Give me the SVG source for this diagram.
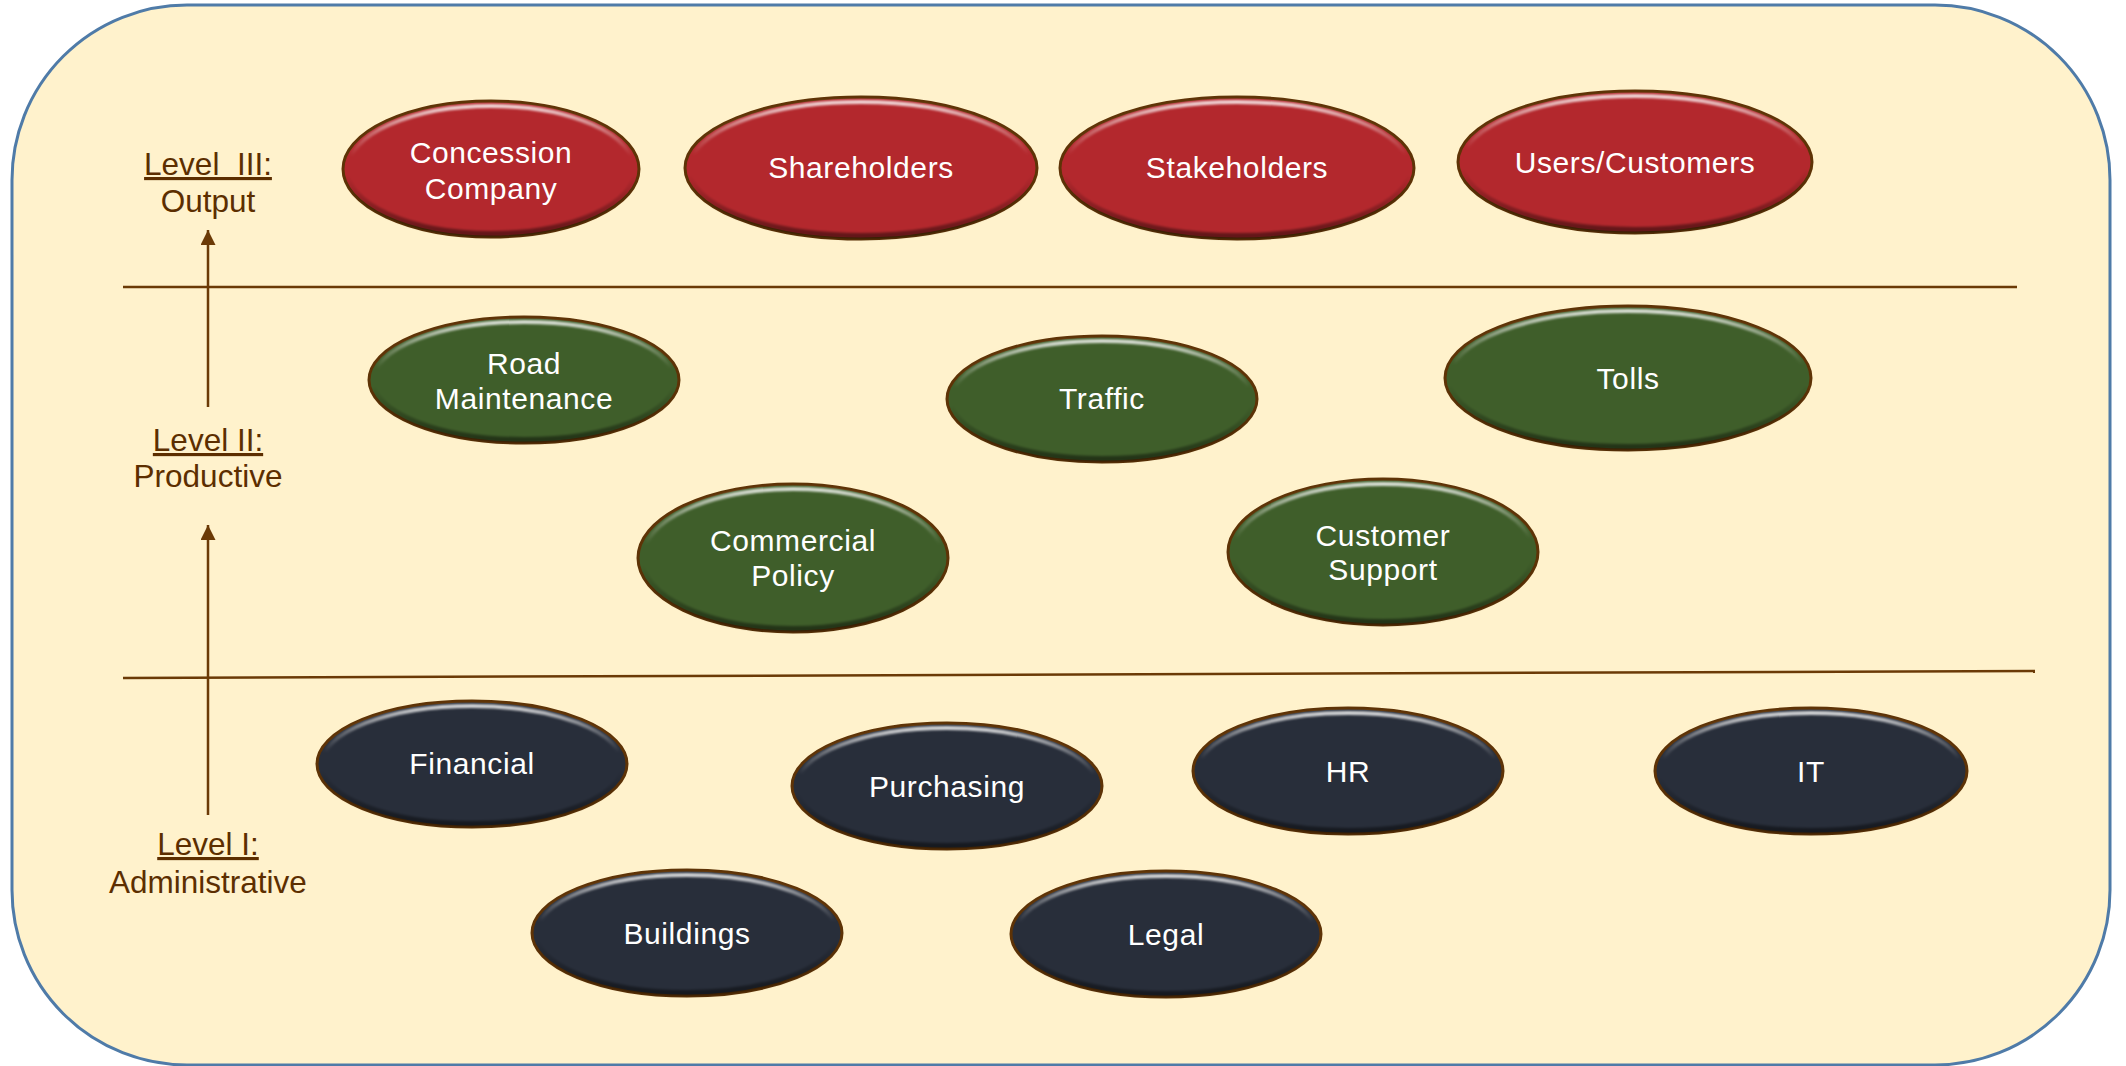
<svg xmlns="http://www.w3.org/2000/svg" width="2126" height="1066" viewBox="0 0 2126 1066">
  <style>
    .lvl { font-family: "Liberation Sans", Arial, sans-serif; font-size: 31.5px; fill: #5C2E00; text-anchor: middle; }
    .ul { text-decoration: underline; }
    .lbl { font-family: "Liberation Sans", Arial, sans-serif; font-size: 30px; letter-spacing: 0.6px; fill: #FFFFFF; text-anchor: middle; }
    .rim { stroke: #5E3306; stroke-width: 3; }
    .hl { fill: none; stroke: url(#hiGrad); stroke-width: 4; filter: url(#soft); }
    .sh { fill: none; stroke: url(#shGrad); stroke-width: 6; filter: url(#soft); }
    .red { fill: #B3282D; }
    .green { fill: #3F5E2A; }
    .dark { fill: #282E3A; }
    .rule { stroke: #6B3A06; stroke-width: 2.5; fill: none; }
  </style>
  <defs>
    <linearGradient id="hiGrad" x1="0" y1="0" x2="0" y2="1">
      <stop offset="0" stop-color="#FFFFFF" stop-opacity="0.8"/>
      <stop offset="0.22" stop-color="#FFFFFF" stop-opacity="0.3"/>
      <stop offset="0.4" stop-color="#FFFFFF" stop-opacity="0"/>
      <stop offset="1" stop-color="#FFFFFF" stop-opacity="0"/>
    </linearGradient>
    <linearGradient id="shGrad" x1="0" y1="0" x2="0" y2="1">
      <stop offset="0" stop-color="#000000" stop-opacity="0"/>
      <stop offset="0.55" stop-color="#000000" stop-opacity="0"/>
      <stop offset="1" stop-color="#000000" stop-opacity="0.45"/>
    </linearGradient>
    <filter id="soft" x="-10%" y="-10%" width="120%" height="120%">
      <feGaussianBlur stdDeviation="1.2"/>
    </filter>
    <marker id="arrow" viewBox="0 0 10 10" refX="10" refY="5" markerWidth="15" markerHeight="15" markerUnits="userSpaceOnUse" orient="auto">
      <path d="M0,0 L10,5 L0,10 Z" fill="#6B3A06"/>
    </marker>
  </defs>

  <!-- panel -->
  <rect x="12" y="5" width="2098" height="1060" rx="175" ry="175" fill="#FFF2CC" stroke="#4F7BA8" stroke-width="3"/>

  <!-- level dividers and arrows -->
  <g id="connectors">
    <line class="rule" x1="123" y1="287" x2="2017" y2="287"/>
    <line class="rule" x1="123" y1="678" x2="2035" y2="671"/>
    <line class="rule" x1="208" y1="815" x2="208" y2="525" marker-end="url(#arrow)"/>
    <line class="rule" x1="208" y1="407" x2="208" y2="230" marker-end="url(#arrow)"/>
  </g>

  <!-- level captions -->
  <g id="level3">
    <text class="lvl" x="208" y="175"><tspan class="ul" xml:space="preserve">Level  III:</tspan></text>
    <text class="lvl" x="208" y="212">Output</text>
  </g>
  <g id="level2">
    <text class="lvl" x="208" y="451"><tspan class="ul">Level II:</tspan></text>
    <text class="lvl" x="208" y="487">Productive</text>
  </g>
  <g id="level1">
    <text class="lvl" x="208" y="855"><tspan class="ul">Level I:</tspan></text>
    <text class="lvl" x="208" y="893">Administrative</text>
  </g>

  <!-- Level III nodes -->
  <g id="concession-company" transform="translate(491,169)">
    <ellipse class="red rim" rx="148" ry="68"/>
    <ellipse class="sh" rx="145" ry="65"/>
    <ellipse class="hl" rx="143" ry="63"/>
    <text class="lbl" y="-6">Concession</text>
    <text class="lbl" y="30">Company</text>
  </g>
  <g id="shareholders" transform="translate(861,168)">
    <ellipse class="red rim" rx="176" ry="71"/>
    <ellipse class="sh" rx="173" ry="68"/>
    <ellipse class="hl" rx="171" ry="66"/>
    <text class="lbl" y="10">Shareholders</text>
  </g>
  <g id="stakeholders" transform="translate(1237,168)">
    <ellipse class="red rim" rx="177" ry="71"/>
    <ellipse class="sh" rx="174" ry="68"/>
    <ellipse class="hl" rx="172" ry="66"/>
    <text class="lbl" y="10">Stakeholders</text>
  </g>
  <g id="users-customers" transform="translate(1635,162)">
    <ellipse class="red rim" rx="177" ry="71"/>
    <ellipse class="sh" rx="174" ry="68"/>
    <ellipse class="hl" rx="172" ry="66"/>
    <text class="lbl" y="11">Users/Customers</text>
  </g>

  <!-- Level II nodes -->
  <g id="road-maintenance" transform="translate(524,380)">
    <ellipse class="green rim" rx="155" ry="63"/>
    <ellipse class="sh" rx="152" ry="60"/>
    <ellipse class="hl" rx="150" ry="58"/>
    <text class="lbl" y="-6">Road</text>
    <text class="lbl" y="29">Maintenance</text>
  </g>
  <g id="traffic" transform="translate(1102,399)">
    <ellipse class="green rim" rx="155" ry="63"/>
    <ellipse class="sh" rx="152" ry="60"/>
    <ellipse class="hl" rx="150" ry="58"/>
    <text class="lbl" y="10">Traffic</text>
  </g>
  <g id="tolls" transform="translate(1628,378)">
    <ellipse class="green rim" rx="183" ry="72"/>
    <ellipse class="sh" rx="180" ry="69"/>
    <ellipse class="hl" rx="178" ry="67"/>
    <text class="lbl" y="11">Tolls</text>
  </g>
  <g id="commercial-policy" transform="translate(793,558)">
    <ellipse class="green rim" rx="155" ry="74"/>
    <ellipse class="sh" rx="152" ry="71"/>
    <ellipse class="hl" rx="150" ry="69"/>
    <text class="lbl" y="-7">Commercial</text>
    <text class="lbl" y="28">Policy</text>
  </g>
  <g id="customer-support" transform="translate(1383,552)">
    <ellipse class="green rim" rx="155" ry="73"/>
    <ellipse class="sh" rx="152" ry="70"/>
    <ellipse class="hl" rx="150" ry="68"/>
    <text class="lbl" y="-6">Customer</text>
    <text class="lbl" y="28">Support</text>
  </g>

  <!-- Level I nodes -->
  <g id="financial" transform="translate(472,764)">
    <ellipse class="dark rim" rx="155" ry="63"/>
    <ellipse class="sh" rx="152" ry="60"/>
    <ellipse class="hl" rx="150" ry="58"/>
    <text class="lbl" y="10">Financial</text>
  </g>
  <g id="purchasing" transform="translate(947,786)">
    <ellipse class="dark rim" rx="155" ry="63"/>
    <ellipse class="sh" rx="152" ry="60"/>
    <ellipse class="hl" rx="150" ry="58"/>
    <text class="lbl" y="11">Purchasing</text>
  </g>
  <g id="hr" transform="translate(1348,771)">
    <ellipse class="dark rim" rx="155" ry="63"/>
    <ellipse class="sh" rx="152" ry="60"/>
    <ellipse class="hl" rx="150" ry="58"/>
    <text class="lbl" y="11">HR</text>
  </g>
  <g id="it" transform="translate(1811,771)">
    <ellipse class="dark rim" rx="156" ry="63"/>
    <ellipse class="sh" rx="153" ry="60"/>
    <ellipse class="hl" rx="151" ry="58"/>
    <text class="lbl" y="11">IT</text>
  </g>
  <g id="buildings" transform="translate(687,933)">
    <ellipse class="dark rim" rx="155" ry="63"/>
    <ellipse class="sh" rx="152" ry="60"/>
    <ellipse class="hl" rx="150" ry="58"/>
    <text class="lbl" y="11">Buildings</text>
  </g>
  <g id="legal" transform="translate(1166,934)">
    <ellipse class="dark rim" rx="155" ry="63"/>
    <ellipse class="sh" rx="152" ry="60"/>
    <ellipse class="hl" rx="150" ry="58"/>
    <text class="lbl" y="11">Legal</text>
  </g>
</svg>
